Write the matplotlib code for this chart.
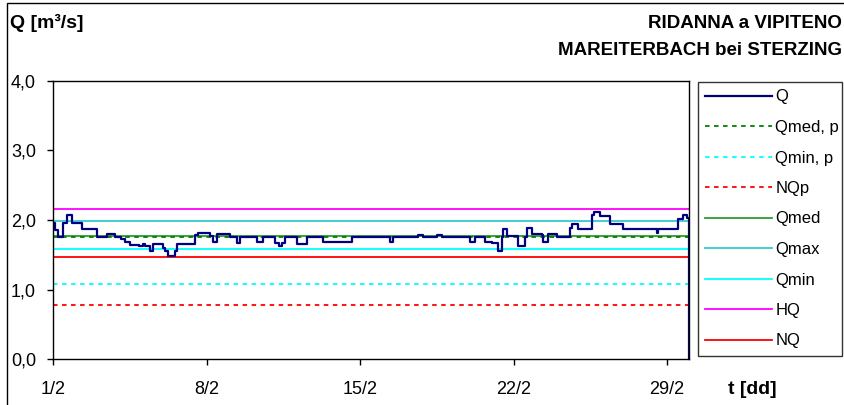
import matplotlib.pyplot as plt
from matplotlib.patches import Rectangle

plt.rcParams['font.family'] = ['Liberation Sans', 'DejaVu Sans']

# Portata Q (giorno di febbraio, valore in m3/s), andamento a gradini
giorni = [1.00, 1.10, 1.24, 1.47, 1.62, 1.85, 2.31, 3.00, 3.45, 3.83,
          4.10, 4.30, 4.51, 4.90, 5.10, 5.20, 5.42, 5.57, 6.03, 6.11,
          6.25, 6.56, 6.64, 7.48, 7.60, 8.16, 8.31, 8.46, 9.07, 9.38,
          9.53, 10.29, 10.59, 11.12, 11.30, 11.45, 11.58, 12.11, 12.57, 13.33,
          14.62, 16.37, 16.52, 17.66, 17.89, 18.50, 18.72, 20.01, 20.24, 20.70,
          21.00, 21.31, 21.46, 21.53, 21.69, 22.22, 22.52, 22.60, 22.83, 23.28,
          23.36, 23.59, 23.97, 24.58, 24.65, 24.95, 25.56, 25.65, 25.94, 26.40,
          27.01, 28.53, 28.60, 29.51, 29.74, 29.90, 30.00]
portata = [1.95, 1.86, 1.75, 1.95, 2.07, 1.95, 1.87, 1.75, 1.80, 1.75,
           1.72, 1.68, 1.64, 1.62, 1.65, 1.62, 1.55, 1.66, 1.60, 1.55,
           1.48, 1.55, 1.66, 1.79, 1.81, 1.77, 1.68, 1.80, 1.75, 1.67,
           1.75, 1.68, 1.75, 1.67, 1.63, 1.67, 1.75, 1.65, 1.75, 1.69,
           1.75, 1.68, 1.75, 1.79, 1.75, 1.79, 1.75, 1.68, 1.75, 1.69,
           1.67, 1.55, 1.75, 1.87, 1.77, 1.62, 1.75, 1.88, 1.80, 1.79,
           1.68, 1.80, 1.75, 1.88, 1.94, 1.87, 2.07, 2.12, 2.05, 1.94,
           1.87, 1.81, 1.87, 2.01, 2.07, 2.03, 0.00]

# Valori caratteristici
Qmed_p = 1.76
Qmin_p = 1.08
NQp = 0.78
Qmed = 1.77
Qmax = 1.98
Qmin = 1.58
HQ = 2.16
NQ = 1.47

giorno_inizio = 1.0
giorno_fine = 30.0
tick_giorni = [1, 8, 15, 22, 29]
tick_etichette = ["1/2", "8/2", "15/2", "22/2", "29/2"]
tick_q = [0, 1, 2, 3, 4]
tick_q_etichette = ["0,0", "1,0", "2,0", "3,0", "4,0"]

fig = plt.figure(figsize=(8.45, 4.05), dpi=100)
ax = fig.add_axes([53 / 845, 1 - 359.3 / 405, (689 - 53) / 845, (359.3 - 80.5) / 405])

# cornice esterna
fig.patches.append(Rectangle((7 / 845, -0.05), 1.2, 1 - 3 / 405 + 0.05,
                             transform=fig.transFigure, fill=False,
                             edgecolor="black", linewidth=1.0))

xs = [giorno_inizio, giorno_fine]
l_hq, = ax.plot(xs, [HQ, HQ], color="#FF00FF", lw=1.3, label="HQ")
l_qmax, = ax.plot(xs, [Qmax, Qmax], color="#33CCCC", lw=1.3, label="Qmax")
l_qmed, = ax.plot(xs, [Qmed, Qmed], color="#339933", lw=1.3, label="Qmed")
l_qmin, = ax.plot(xs, [Qmin, Qmin], color="#00FFFF", lw=1.3, label="Qmin")
l_nq, = ax.plot(xs, [NQ, NQ], color="#FF0000", lw=1.3, label="NQ")
l_qmedp, = ax.plot(xs, [Qmed_p, Qmed_p], color="#008000", lw=1.3,
                   dashes=(2.5, 2.5), label="Qmed, p")
l_qminp, = ax.plot(xs, [Qmin_p, Qmin_p], color="#00FFFF", lw=1.3,
                   dashes=(2.5, 2.5), label="Qmin, p")
l_nqp, = ax.plot(xs, [NQp, NQp], color="#FF0000", lw=1.3,
                 dashes=(2.5, 2.5), label="NQp")
l_q, = ax.plot(giorni, portata, color="#000080", lw=1.6,
               drawstyle="steps-post", label="Q")

ax.set_xlim(giorno_inizio, giorno_fine)
ax.set_ylim(0, 4)
ax.set_xticks(tick_giorni)
ax.set_xticklabels(tick_etichette)
ax.set_yticks(tick_q)
ax.set_yticklabels(tick_q_etichette)
ax.tick_params(axis="x", direction="out", length=4.3, width=1, labelsize=13, pad=11.5)
ax.tick_params(axis="y", direction="out", length=4.3, width=1, labelsize=13, pad=8)
for s in ax.spines.values():
    s.set_linewidth(1.0)

leg = fig.legend(
    handles=[l_q, l_qmedp, l_qminp, l_nqp, l_qmed, l_qmax, l_qmin, l_hq, l_nq],
    loc="upper left",
    bbox_to_anchor=(698 / 845, 1 - 82 / 405, (842 - 698) / 845, 0),
    mode="expand",
    fontsize=12,
    frameon=True,
    fancybox=False,
    edgecolor="black",
    borderaxespad=0,
    handlelength=4.0,
    handletextpad=0.2,
    labelspacing=0.93,
    borderpad=0.45,
)
leg.get_frame().set_linewidth(1.0)

fig.text(10 / 845, 1 - 28 / 405, "Q [m³/s]", fontsize=14, fontweight="bold",
         ha="left", va="baseline")
fig.text(842 / 845, 1 - 28 / 405, "RIDANNA a VIPITENO", fontsize=13.5,
         fontweight="bold", ha="right", va="baseline")
fig.text(842 / 845, 1 - 55 / 405, "MAREITERBACH bei STERZING", fontsize=13.5,
         fontweight="bold", ha="right", va="baseline")
fig.text(728 / 845, 1 - 394 / 405, "t [dd]", fontsize=14, fontweight="bold",
         ha="left", va="baseline")

fig.savefig("out.png", dpi=100)
